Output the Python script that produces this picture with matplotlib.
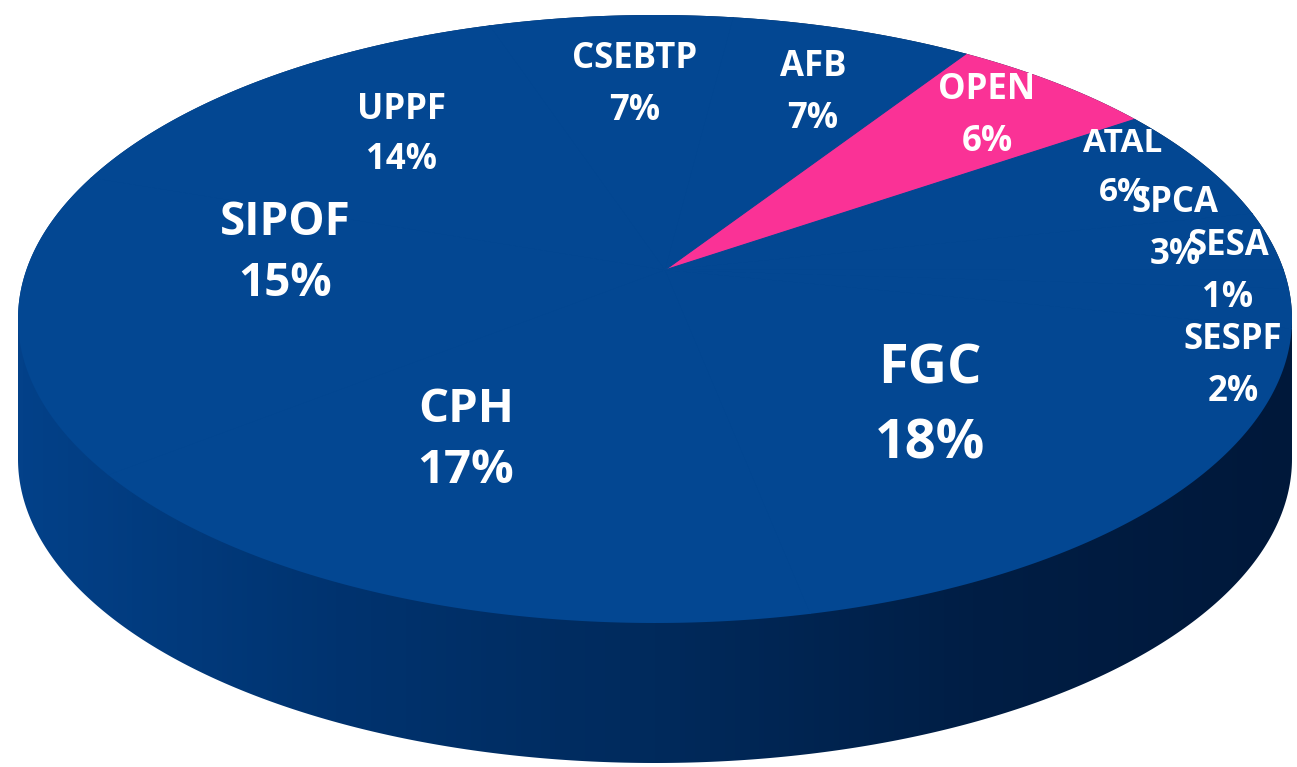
import matplotlib.pyplot as plt
import numpy as np
from matplotlib.colors import LinearSegmentedColormap
from matplotlib.patches import Polygon

# slices, clockwise starting at the pink one
names = ["OPEN", "ATAL", "SPCA", "SESA", "SESPF", "FGC", "CPH", "SIPOF", "UPPF", "CSEBTP", "AFB"]
shares = [6, 6, 3, 1, 2, 18, 17, 15, 14, 7, 7]

BLUE = "#034792"
PINK = "#FA3296"
colors = [PINK if n == "OPEN" else BLUE for n in names]

# label layout in image pixels: x, y of the middle of the two lines, font size, line spacing
label_pos = {
    "CSEBTP": (635, 85, 25, 1.6),
    "AFB": (813, 93, 25, 1.6),
    "OPEN": (987, 116, 25, 1.6),
    "ATAL": (1123, 168, 24, 1.65),
    "SPCA": (1175, 229, 25, 1.6),
    "SESA": (1228, 272, 25, 1.6),
    "SESPF": (1233, 366, 25, 1.6),
    "FGC": (930, 407, 39, 1.5),
    "CPH": (466, 440, 34, 1.37),
    "SIPOF": (285, 253, 33, 1.4),
    "UPPF": (402, 135, 25, 1.55),
}

W, H = 1297, 767
# pie apex and the squashed top face (pixels)
ax0, ay0 = 665, 270
ex, ey, ea, eb = 655, 319, 637, 304
depth = 140


def to_uv(x, y):
    return (x - ax0) / ea, ((H - y) - (H - ay0)) / eb


fig = plt.figure(figsize=(W / 100, H / 100), dpi=100)
ax = fig.add_axes([0, 0, 1, 1])

cu, cv = to_uv(ex, ey)
dv = depth / eb

wedges, _ = ax.pie(shares, colors=colors, startangle=56.4, counterclock=False,
                   radius=1.6, center=(0, 0))
ax.axis("off")
ax.set_aspect("auto")

# side of the cake with a left-to-right shading
th1 = np.linspace(np.pi, 2 * np.pi, 300)
th2 = np.linspace(0, np.pi, 300)
side_pts = np.vstack([
    np.column_stack([cu + np.cos(th1), cv - dv + np.sin(th1)]),
    np.column_stack([cu + np.cos(th2), cv + np.sin(th2)]),
])
side = Polygon(side_pts, closed=True, transform=ax.transData)
cmap = LinearSegmentedColormap.from_list(
    "side", ["#034189", "#00336f", "#002a5c", "#001e45", "#00183a"])
grad = np.linspace(0, 1, 256).reshape(1, -1)
im = ax.imshow(grad, cmap=cmap, aspect="auto",
               extent=[cu - 1, cu + 1, cv - dv - 1, cv + 1], zorder=1)
im.set_clip_path(side)

# top face outline used to cut the pie
th = np.linspace(0, 2 * np.pi, 600)
top_pts = np.column_stack([cu + np.cos(th), cv + np.sin(th)])
top = Polygon(top_pts, closed=True, transform=ax.transData)
for w in wedges:
    w.set_zorder(3)
    w.set_edgecolor(w.get_facecolor())
    w.set_linewidth(0.8)
    w.set_clip_on(True)
    w.set_clip_path(top)

for n, s in zip(names, shares):
    x, y, fs, ls = label_pos[n]
    u, v = to_uv(x, y)
    ax.text(u, v, f"{n}\n{s}%", color="white", fontsize=fs, fontweight="bold",
            family=["Open Sans", "DejaVu Sans"], ha="center", va="center",
            multialignment="center", linespacing=ls, zorder=5)

ax.set_xlim(to_uv(0, 0)[0], to_uv(W, 0)[0])
ax.set_ylim(to_uv(0, H)[1], to_uv(0, 0)[1])

plt.savefig("out.png", dpi=100)
